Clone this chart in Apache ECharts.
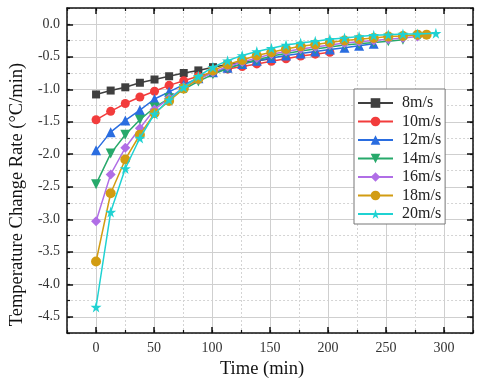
<!DOCTYPE html>
<html>
<head>
<meta charset="utf-8">
<script src="https://cdn.jsdelivr.net/npm/echarts@6/dist/echarts.min.js"></script>
<style>html,body{margin:0;padding:0;background:#fff}#c{width:480px;height:384px}</style>
</head>
<body>
<div id="c"></div>
<script>
const seriesNames = ['8m/s', '10m/s', '12m/s', '14m/s', '16m/s', '18m/s', '20m/s'];
const times = [0, 12.6, 25.2, 37.8, 50.4, 63, 75.6, 88.2, 100.8, 113.4, 126, 138.6, 151.2, 163.8, 176.4, 189, 201.6, 214.2, 226.8, 239.4, 252, 264.6, 277.2, 289.8];
const endTimes = [151.2, 201.6, 239.4, 264.6, 277.2, 285, 293];
const v8 = [-1.08, -1.02, -0.97, -0.90, -0.85, -0.80, -0.75, -0.71, -0.66, -0.62, -0.59, -0.56, -0.53];
const v10 = [-1.47, -1.34, -1.22, -1.12, -1.03, -0.94, -0.87, -0.80, -0.74, -0.69, -0.65, -0.61, -0.57, -0.53, -0.49, -0.46, -0.43];
const v12 = [-1.94, -1.66, -1.48, -1.32, -1.15, -1.04, -0.93, -0.83, -0.74, -0.67, -0.61, -0.56, -0.52, -0.48, -0.45, -0.42, -0.39, -0.36, -0.33, -0.30];
const v14 = [-2.46, -1.99, -1.70, -1.47, -1.28, -1.14, -1.00, -0.88, -0.77, -0.68, -0.61, -0.55, -0.49, -0.45, -0.41, -0.38, -0.35, -0.32, -0.30, -0.28, -0.26, -0.24];
const v16 = [-3.03, -2.31, -1.90, -1.60, -1.31, -1.14, -0.97, -0.85, -0.74, -0.65, -0.58, -0.52, -0.46, -0.42, -0.38, -0.35, -0.32, -0.29, -0.27, -0.25, -0.23, -0.21, -0.19];
const v18 = [-3.65, -2.60, -2.08, -1.70, -1.37, -1.18, -0.99, -0.84, -0.71, -0.62, -0.55, -0.48, -0.43, -0.38, -0.34, -0.31, -0.28, -0.25, -0.23, -0.21, -0.19, -0.18, -0.16, -0.16];
const v20 = [-4.35, -2.89, -2.22, -1.75, -1.38, -1.16, -0.97, -0.80, -0.66, -0.56, -0.48, -0.42, -0.37, -0.32, -0.29, -0.26, -0.23, -0.21, -0.19, -0.17, -0.16, -0.15, -0.15, -0.14];
const xMajorTicks = [0, 50, 100, 150, 200, 250, 300];
const yMajorTicks = [0, -0.5, -1, -1.5, -2, -2.5, -3, -3.5, -4, -4.5];

const allValues = [v8, v10, v12, v14, v16, v18, v20];
const colors = ['#3f3f3f', '#f23c3c', '#2a6de0', '#27a96b', '#b06ee6', '#d29c12', '#1fd2d2'];
const symbols = ['rect', 'circle', 'triangle', 'triangle', 'diamond', 'circle',
  'path://M50,0 L61,35 L98,35 L68,57 L79,91 L50,70 L21,91 L32,57 L2,35 L39,35 Z'];
const rotates = [0, 0, 0, 180, 0, 0, 0];
const sizes = [8, 9, 10, 10, 10, 10, 11];

const FONT = 'Liberation Serif';
const series = allValues.map((vals, k) => ({
  name: seriesNames[k],
  type: 'line',
  xAxisIndex: 0, yAxisIndex: 0,
  data: vals.map((v, i) => [i === vals.length - 1 ? endTimes[k] : times[i], v]),
  symbol: symbols[k],
  symbolSize: sizes[k],
  symbolRotate: rotates[k],
  showAllSymbol: true,
  color: colors[k],
  lineStyle: { width: 1.5, color: colors[k] },
  itemStyle: { color: colors[k] },
  z: 3 + k
}));

const isMult = (v, m) => Math.abs(v / m - Math.round(v / m)) < 1e-6;
const baseX = { type: 'value', min: -25, max: 325, interval: 25 };
const baseY = { type: 'value', min: -4.75, max: 0.25, interval: 0.25 };
const lineBlack = { show: true, onZero: false, lineStyle: { color: '#111', width: 1.5 } };
const hideAll = { axisLine: { show: false, onZero: false }, axisTick: { show: false }, axisLabel: { show: false }, splitLine: { show: false } };

const option = {
  animation: false,
  backgroundColor: '#fff',
  grid: { left: 66, right: 7, top: 8, bottom: 50, containLabel: false },
  legend: {
    data: seriesNames,
    orient: 'vertical',
    left: 354, top: 89,
    backgroundColor: '#fff',
    borderColor: '#777', borderWidth: 1, borderRadius: 0,
    padding: [6, 4, 2, 3],
    itemGap: 2.5,
    itemWidth: 35, itemHeight: 12,
    textStyle: { fontFamily: FONT, fontSize: 16, color: '#222', lineHeight: 14, padding: [0, 0, 0, 4] }
  },
  xAxis: [
    Object.assign({}, baseX, {
      position: 'bottom',
      name: 'Time (min)', nameLocation: 'middle', nameGap: 27,
      nameTextStyle: { fontFamily: FONT, fontSize: 18.5, color: '#111', padding: [0, 16, 0, 0] },
      axisLine: lineBlack,
      axisTick: { show: true, inside: true, length: 3, lineStyle: { color: '#111', width: 1.2 } },
      axisLabel: { fontFamily: FONT, fontSize: 14, color: '#333', margin: 8,
        formatter: v => isMult(v, 50) ? String(v) : '' },
      splitLine: { show: true, lineStyle: { color: '#d4d4d4', type: [2, 2], width: 1 } }
    }),
    Object.assign({}, baseX, hideAll, {
      position: 'bottom',
      splitLine: { show: true, lineStyle: { color: ['rgba(0,0,0,0)', '#cfcfcf'], type: 'solid', width: 1 } }
    }),
    Object.assign({}, baseX, hideAll, {
      position: 'bottom',
      axisTick: { show: true, inside: true, length: 6, customValues: xMajorTicks, lineStyle: { color: '#111', width: 1.5 } }
    }),
    Object.assign({}, baseX, hideAll, {
      position: 'top',
      axisLine: lineBlack,
      axisTick: { show: true, inside: true, length: 3, lineStyle: { color: '#111', width: 1.2 } }
    }),
    Object.assign({}, baseX, hideAll, {
      position: 'top',
      axisTick: { show: true, inside: true, length: 6, customValues: xMajorTicks, lineStyle: { color: '#111', width: 1.5 } }
    })
  ],
  yAxis: [
    Object.assign({}, baseY, {
      position: 'left',
      name: 'Temperature Change Rate (°C/min)', nameLocation: 'middle', nameGap: 34,
      nameTextStyle: { fontFamily: FONT, fontSize: 18.5, color: '#111', padding: [0, 48, 0, 0] },
      axisLine: lineBlack,
      axisTick: { show: true, inside: true, length: 3, lineStyle: { color: '#111', width: 1.2 } },
      axisLabel: { fontFamily: FONT, fontSize: 14, color: '#333', margin: 7,
        formatter: v => isMult(v, 0.5) ? v.toFixed(1) : '' },
      splitLine: { show: true, lineStyle: { color: '#d4d4d4', type: [2, 2], width: 1 } }
    }),
    Object.assign({}, baseY, hideAll, {
      position: 'left',
      splitLine: { show: true, lineStyle: { color: ['rgba(0,0,0,0)', '#cfcfcf'], type: 'solid', width: 1 } }
    }),
    Object.assign({}, baseY, hideAll, {
      position: 'left',
      axisTick: { show: true, inside: true, length: 6, customValues: yMajorTicks, lineStyle: { color: '#111', width: 1.5 } }
    }),
    Object.assign({}, baseY, hideAll, {
      position: 'right',
      axisLine: lineBlack,
      axisTick: { show: true, inside: true, length: 3, lineStyle: { color: '#111', width: 1.2 } }
    }),
    Object.assign({}, baseY, hideAll, {
      position: 'right',
      axisTick: { show: true, inside: true, length: 6, customValues: yMajorTicks, lineStyle: { color: '#111', width: 1.5 } }
    })
  ],
  series: series
};
const chart = echarts.init(document.getElementById('c'), null, { renderer: 'canvas' });
chart.setOption(option);
</script>
</body>
</html>
